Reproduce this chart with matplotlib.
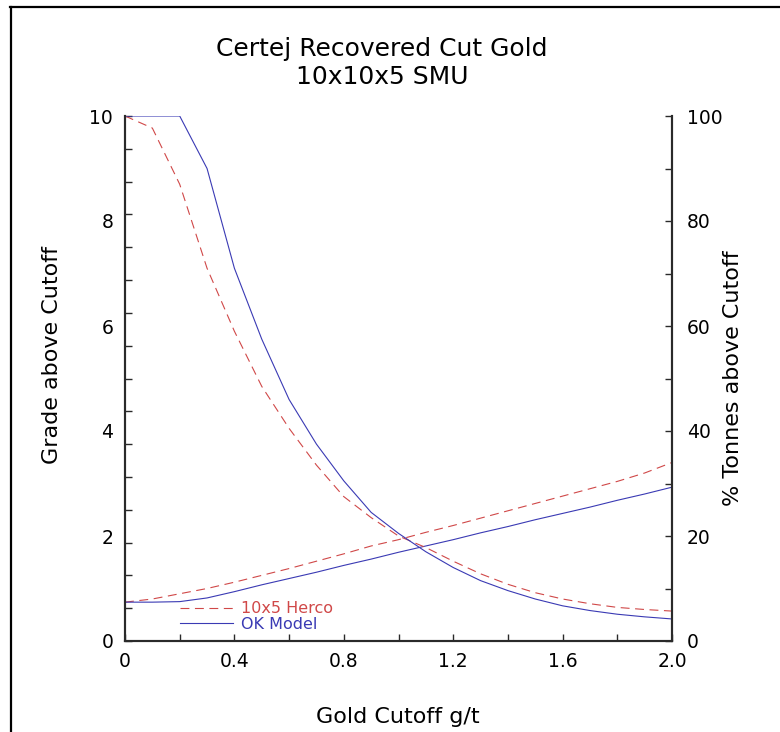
import numpy as np
import matplotlib
matplotlib.use("Agg")
import matplotlib.pyplot as plt
from matplotlib.lines import Line2D

# cutoff grades (g/t)
cutoff = [0.0, 0.1, 0.2, 0.3, 0.4, 0.5, 0.6, 0.7, 0.8, 0.9, 1.0,
          1.1, 1.2, 1.3, 1.4, 1.5, 1.6, 1.7, 1.8, 1.9, 2.0]

# grade above cutoff (left axis)
grade_herco = [0.74, 0.80, 0.90, 1.00, 1.12, 1.25, 1.38, 1.52, 1.66, 1.81, 1.93,
               2.07, 2.20, 2.34, 2.48, 2.62, 2.76, 2.90, 3.04, 3.20, 3.40]
grade_ok = [0.74, 0.74, 0.75, 0.82, 0.94, 1.07, 1.19, 1.31, 1.44, 1.56, 1.69,
            1.81, 1.93, 2.06, 2.18, 2.31, 2.43, 2.55, 2.68, 2.80, 2.93]

# % tonnes above cutoff (right axis)
tonnes_herco = [100, 97.7, 87, 71, 59, 48.5, 40.5, 33.5, 27.5, 23.5, 20.0,
                17.8, 15.2, 12.8, 10.8, 9.2, 8.0, 7.1, 6.4, 6.0, 5.7]
tonnes_ok = [100, 100, 100, 90, 71, 57.5, 46, 37.5, 30.5, 24.5, 20.5,
             17.0, 14.0, 11.5, 9.6, 8.0, 6.7, 5.8, 5.1, 4.6, 4.2]

labels = ["10x5 Herco", "OK Model"]
red = "#d04848"
blue = "#3a3ab4"
dash = (0, (8, 5))

W, H = 780, 732
fig = plt.figure(figsize=(W / 100, H / 100), dpi=100)
ax = fig.add_axes([125 / W, 1 - 641 / H, 547 / W, 525 / H])
ax2 = ax.twinx()

l1, = ax.plot(cutoff, grade_herco, color=red, lw=0.8, ls=dash)
l2, = ax.plot(cutoff, grade_ok, color=blue, lw=0.8)
ax2.plot(cutoff, tonnes_herco, color=red, lw=0.8, ls=dash)
ax2.plot(cutoff, tonnes_ok, color=blue, lw=0.8)

ax.set_xlim(0, 2.0)
ax.set_ylim(0, 10)
ax2.set_ylim(0, 100)

spine_col = "#2a2a2a"
for a in (ax, ax2):
    a.spines["top"].set_visible(False)
    for s in ("left", "right", "bottom"):
        a.spines[s].set_linewidth(1.5)
        a.spines[s].set_color(spine_col)

# x ticks
ax.set_xticks([0, 0.4, 0.8, 1.2, 1.6, 2.0])
ax.set_xticklabels(["0", "0.4", "0.8", "1.2", "1.6", "2.0"])
ax.set_xticks([0.2, 0.6, 1.0, 1.4, 1.8], minor=True)
ax.tick_params(axis="x", which="both", direction="in", length=5, width=1,
               color=spine_col, labelsize=13.5, pad=8, top=False)

# left ticks: labels every 2, tick marks every 0.625
ax.set_yticks([0, 2, 4, 6, 8, 10])
ax.set_yticks(np.linspace(0, 10, 17), minor=True)
ax.yaxis.remove_overlapping_locs = False
ax.tick_params(axis="y", which="major", length=0, labelsize=13.5, pad=8.5)
ax.tick_params(axis="y", which="minor", direction="in", length=5, width=1,
               color=spine_col)
ax.tick_params(axis="y", right=False, which="both")

# right ticks
ax2.set_yticks([0, 20, 40, 60, 80, 100])
ax2.set_yticks([10, 30, 50, 70, 90], minor=True)
ax2.tick_params(axis="y", which="both", direction="in", length=5, width=1,
                color=spine_col, labelsize=13.5, pad=10.5)

leg = ax2.legend([l1, l2], labels, loc="lower left",
                 bbox_to_anchor=(55 / 547, 9 / 525), frameon=False,
                 fontsize=11.5, handlelength=3.3, handletextpad=0.55,
                 labelspacing=0.05, borderpad=0, borderaxespad=0,
                 labelcolor=[red, blue])

fig.text(0.49, 1 - 63 / H, "Certej Recovered Cut Gold\n10x5x5 SMU".replace("10x5x5", "10x10x5"),
         ha="center", va="center", fontsize=18, linespacing=1.25)
fig.text(52 / W, 1 - 355 / H, "Grade above Cutoff", rotation=90,
         ha="center", va="center", fontsize=16)
fig.text(733 / W, 1 - 378 / H, "% Tonnes above Cutoff", rotation=90,
         ha="center", va="center", fontsize=16)
fig.text(398 / W, 1 - 717 / H, "Gold Cutoff g/t", ha="center", va="center",
         fontsize=16)

# outer frame (top and left edges only)
fig.add_artist(Line2D([10 / W, 1], [1 - 7 / H] * 2, transform=fig.transFigure,
                      color="black", lw=1.6))
fig.add_artist(Line2D([11 / W] * 2, [0, 1 - 7 / H], transform=fig.transFigure,
                      color="black", lw=1.6))

fig.savefig("out.png", dpi=100)
